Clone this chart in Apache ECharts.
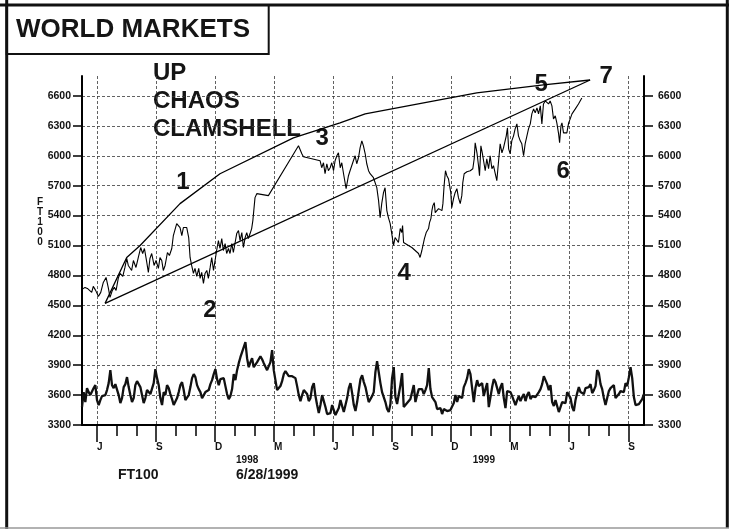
<!DOCTYPE html>
<html><head><meta charset="utf-8">
<script src="https://cdn.jsdelivr.net/npm/echarts@6.0.0/dist/echarts.min.js"></script>
<style>html,body{margin:0;padding:0;background:#fff}#c{width:729px;height:529px}</style>
</head><body><div id="c"></div>
<script>
const FONT = '"Liberation Sans", Arial, Helvetica, sans-serif';
// x unit: months since 1 June 1997
const xMin = -0.763, xMax = 27.8;
const quarterTicks = [0,3,6,9,12,15,18,21,24,27];
const quarterLabels = ['J','S','D','M','J','S','D','M','J','S'];
const monthTicks = [0,1,2,3,4,5,6,7,8,9,10,11,12,13,14,15,16,17,18,19,20,21,22,23,24,25,26,27];
const yearPos = [7.63, 19.66];
const yearLabels = ['1998','1999'];
const yTicks = [3300,3600,3900,4200,4500,4800,5100,5400,5700,6000,6300,6600];

// FT100 price [month, value]
const price = [[-0.76,4660],[-0.61,4680],[-0.49,4670],[-0.39,4680],[-0.27,4630],[-0.19,4690],[-0.07,4650],[0.07,4590],[0.19,4630],[0.32,4730],[0.46,4780],[0.58,4670],[0.66,4580],[0.78,4650],[0.88,4680],[0.97,4650],[1.08,4770],[1.17,4820],[1.31,4790],[1.42,4880],[1.51,4970],[1.59,4900],[1.68,4920],[1.76,4850],[1.85,4950],[1.98,4880],[2.10,4980],[2.22,5080],[2.32,5020],[2.41,5070],[2.53,4930],[2.61,4830],[2.69,4970],[2.78,5020],[2.90,4900],[3.00,4950],[3.12,4870],[3.20,4980],[3.29,4950],[3.37,4850],[3.46,4900],[3.58,5030],[3.68,5000],[3.80,5070],[3.88,5200],[3.97,5180],[4.05,5320],[4.14,5330],[4.22,5280],[4.31,5200],[4.39,5280],[4.47,5270],[4.56,5280],[4.66,5180],[4.73,4980],[4.81,4900],[4.90,4820],[4.98,4870],[5.07,4790],[5.17,4870],[5.24,4770],[5.32,4830],[5.41,4720],[5.49,4820],[5.58,4850],[5.66,4770],[5.75,4880],[5.83,4980],[5.92,4850],[6.00,4950],[6.08,5050],[6.17,5150],[6.25,5070],[6.34,5170],[6.42,5050],[6.51,5120],[6.59,5020],[6.68,5070],[6.76,5020],[6.85,5120],[6.93,5030],[7.02,5130],[7.10,5220],[7.19,5250],[7.27,5150],[7.36,5230],[7.44,5080],[7.53,5180],[7.61,5230],[7.69,5170],[7.78,5220],[7.86,5270],[7.92,5350],[8.03,5580],[8.12,5620],[8.20,5600],[8.71,5600],[10.24,6100],[10.41,6020],[10.49,5990],[11.34,5950],[11.42,5880],[11.51,5930],[11.59,5820],[11.68,5920],[11.76,5850],[11.85,5880],[11.93,5930],[12.02,5850],[12.10,5950],[12.19,6000],[12.27,6030],[12.36,5880],[12.44,5930],[12.53,5820],[12.66,5670],[12.78,5800],[12.86,5850],[13.03,5950],[13.12,6000],[13.20,5920],[13.29,5980],[13.37,6080],[13.46,6150],[13.54,6100],[13.63,6020],[13.71,5920],[13.80,5850],[13.88,5820],[14.05,5780],[14.14,5770],[14.22,5680],[14.31,5550],[14.39,5380],[14.47,5520],[14.56,5630],[14.64,5680],[14.73,5450],[14.81,5380],[14.90,5320],[14.98,5220],[15.07,5100],[15.15,5180],[15.24,5200],[15.32,5130],[15.41,5270],[15.49,5230],[15.53,5300],[15.58,5130],[15.66,5120],[15.83,5100],[16.00,5080],[16.17,5050],[16.34,5020],[16.42,4980],[16.51,5050],[16.59,5070],[16.64,5170],[16.73,5230],[16.80,5220],[16.85,5270],[16.90,5330],[16.97,5370],[17.02,5450],[17.07,5500],[17.14,5530],[17.19,5430],[17.27,5450],[17.36,5470],[17.44,5480],[17.53,5450],[17.58,5520],[17.64,5700],[17.71,5850],[17.78,5800],[17.86,5770],[17.95,5750],[17.98,5630],[18.03,5480],[18.12,5570],[18.20,5630],[18.29,5670],[18.37,5580],[18.46,5520],[18.54,5600],[18.59,5730],[18.66,5820],[18.80,5840],[18.97,5850],[19.10,5870],[19.17,5970],[19.22,6130],[19.31,6030],[19.39,5900],[19.44,5800],[19.51,6100],[19.58,6030],[19.64,6020],[19.73,5850],[19.81,5970],[19.90,5870],[19.98,6000],[20.07,5870],[20.15,5900],[20.24,5820],[20.32,5750],[20.41,5950],[20.49,6120],[20.58,6030],[20.66,6080],[20.75,6100],[20.80,6200],[20.86,6280],[20.92,6070],[21.00,6020],[21.08,6150],[21.17,6200],[21.25,6270],[21.34,6320],[21.42,6200],[21.51,6150],[21.59,6120],[21.68,6000],[21.76,6120],[21.85,6200],[21.93,6270],[22.02,6320],[22.10,6420],[22.19,6470],[22.27,6430],[22.36,6480],[22.44,6420],[22.53,6500],[22.61,6320],[22.69,6520],[22.78,6550],[22.86,6570],[22.95,6520],[23.03,6550],[23.12,6500],[23.20,6370],[23.29,6400],[23.37,6330],[23.46,6220],[23.51,6130],[23.58,6300],[23.63,6330],[23.71,6230],[23.80,6230],[23.88,6230],[23.97,6330],[24.05,6370],[24.14,6420],[24.22,6400],[24.31,6470],[24.39,6450],[24.47,6520],[24.56,6530],[24.64,6580]];

// lower oscillator, sampled at a regular step (months)
const oscStep = 0.08475;
const oscStartA = -0.763;
const oscA = [3480,3630,3530,3670,3630,3600,3580,3670,3700,3550,
3500,3550,3590,3580,3600,3650,3720,3850,3700,3670,
3710,3700,3600,3520,3570,3680,3710,3780,3680,3600,
3530,3570,3700,3740,3730,3680,3600,3520,3570,3650,
3670,3610,3620,3720,3860,3770,3700,3570,3500,3630,
3600,3700,3670,3610,3560,3500,3500,3570,3630,3700,
3730,3650,3550,3530,3600,3680,3770,3810,3780,3700,
3660,3630,3570,3570,3630,3640,3650,3710,3750,3810,
3860,3760,3700,3760,3770,3770,3690,3610,3560,3590,
3660,3810,3750,3850,3920,3980,3970,4080,4130,3970,
3880,3930,3970,3880,3870,3930,3960,3990,3960,3920,
3920,3850,3830,3930,4050,3850,3750,3650,3660,3690,
3740,3810,3840,3850,3790,3790,3790,3770,3770,3690,
3600,3540,3600,3650,3640,3610,3540,3570,3680,3720,
3590,3500,3420,3500,3600,3580,3480,3410,3410,3420,
3500,3480,3400,3400,3470,3550,3530,3430,3430,3570,
3670,3720,3620,3500,3440,3530,3650,3760,3800,3730,
3680,3600];
const oscStartB = 13.81;
const oscB = [3530,3520,3590,3630,3830,3940,3830,3720,3630,3580,
3530,3460,3430,3510,3770,3880,3580,3510,3520,3700,
3820,3480,3460,3520,3520,3560,3540,3700,3530,3600,
3660,3640,3660,3610,3650,3700,3870,3660,3580,3580,
3530,3460,3440,3470,3410,3460,3470,3440,3450,3450,
3470,3520,3600,3530,3590,3590,3570,3680,3720,3770,
3860,3810,3670,3530,3670,3750,3690,3710,3720,3590,
3660,3720,3480,3500,3680,3760,3730,3710,3610,3680,
3720,3570,3470,3640,3660,3630,3590,3570,3500,3550,
3590,3540,3580,3610,3540,3600,3630,3560,3590,3570,
3580,3560,3630,3660,3710,3790,3800,3710,3650,3700,
3530,3490,3550,3490,3430,3440,3530,3550,3520,3630,
3650,3570,3480,3440,3550,3620,3680,3630,3650,3610,
3670,3650,3680,3710,3620,3650,3690,3850,3820,3710,
3660,3570,3500,3570,3640,3670,3650,3700,3570,3590,
3610,3640,3650,3630,3720,3690,3780,3880,3770,3580,
3500,3490,3510,3490,3560,3610];

// clamshell boundaries [month, value]
const clamTop = [[0.41,4520],[1.51,4980],[2.19,5100],[4.22,5520],[6.25,5820],[9.98,6180],[12.35,6330],[13.63,6420],[19.30,6630],[22.69,6710],[25.06,6760]];
const clamBottom = [[0.41,4520],[25.06,6760]];

// wave count annotations
const waveLabels = ['1','2','3','4','5','6','7'];
const waveMonths = [4.37,5.74,11.44,15.61,22.57,23.69,25.88];
const waveValues = [5730,4450,6170,4820,6720,5840,6800];

const oscData = oscA.map((v,i)=>[oscStartA + i*oscStep, v])
  .concat(oscB.map((v,i)=>[oscStartB + i*oscStep, v]));
const waveData = waveMonths.map((m,i)=>[m, waveValues[i]]);

const gridLine = {color:'#3a3a3a', width:0.8, type:[3,2]};
const axisBlack = {color:'#000', width:2};
const tickBlack = {color:'#000', width:1.5};

const chart = echarts.init(document.getElementById('c'), null, {renderer:'canvas'});
chart.setOption({
  animation:false,
  backgroundColor:'#fff',
  grid:{left:82, right:85, top:76, bottom:104, containLabel:false},
  xAxis:[
    {type:'value', min:xMin, max:xMax, position:'bottom',
     axisLine:{show:true, onZero:false, lineStyle:axisBlack},
     axisTick:{show:true, customValues:quarterTicks, length:17, lineStyle:tickBlack},
     axisLabel:{show:true, customValues:quarterTicks, margin:17, align:'left',
       fontSize:10, fontWeight:'bold', fontFamily:FONT, color:'#111',
       formatter:v=>{const k=quarterTicks.indexOf(Math.round(v)); return k>=0?quarterLabels[k]:'';}},
     splitLine:{show:true, lineStyle:gridLine}},
    {type:'value', min:xMin, max:xMax, position:'bottom',
     axisLine:{show:false, onZero:false},
     axisTick:{show:true, customValues:monthTicks, length:11, lineStyle:tickBlack},
     axisLabel:{show:false}, splitLine:{show:false}},
    {type:'value', min:xMin, max:xMax, position:'bottom',
     axisLine:{show:false, onZero:false}, axisTick:{show:false},
     axisLabel:{show:true, customValues:yearPos, margin:30, fontSize:10, fontWeight:'bold', fontFamily:FONT, color:'#111',
       formatter:v=>{let best=0; yearPos.forEach((p,i)=>{if(Math.abs(p-v)<Math.abs(yearPos[best]-v))best=i;}); return yearLabels[best];}},
     splitLine:{show:false}}
  ],
  yAxis:[
    {type:'value', min:3300, max:6800, position:'left',
     axisLine:{show:true, onZero:false, lineStyle:axisBlack},
     axisTick:{show:true, customValues:yTicks, length:9, lineStyle:tickBlack},
     axisLabel:{show:true, customValues:yTicks, margin:11, fontSize:10.5, fontWeight:'bold', fontFamily:FONT, color:'#111', formatter:v=>String(Math.round(v))},
     splitLine:{show:true, lineStyle:gridLine}},
    {type:'value', min:3300, max:6800, position:'right',
     axisLine:{show:true, onZero:false, lineStyle:axisBlack},
     axisTick:{show:true, customValues:yTicks, length:9, lineStyle:tickBlack},
     axisLabel:{show:true, customValues:yTicks, margin:14, fontSize:10.5, fontWeight:'bold', fontFamily:FONT, color:'#111', formatter:v=>String(Math.round(v))},
     splitLine:{show:false}}
  ],
  series:[
    {name:'Oscillator', type:'line', data:oscData, showSymbol:false, silent:true,
     lineStyle:{color:'#111', width:2.3}},
    {name:'FT100', type:'line', data:price, showSymbol:false, silent:true,
     lineStyle:{color:'#000', width:1.1}},
    {name:'ClamTop', type:'line', data:clamTop, showSymbol:false, silent:true,
     lineStyle:{color:'#000', width:1.3}},
    {name:'ClamBottom', type:'line', data:clamBottom, showSymbol:false, silent:true,
     lineStyle:{color:'#000', width:1.3}},
    {name:'Waves', type:'custom', data:waveData, silent:true, clip:false,
     renderItem:(params, api)=>{
       const p = api.coord([api.value(0), api.value(1)]);
       return {type:'text', x:p[0], y:p[1],
         style:{text:waveLabels[params.dataIndex], font:'bold 24px '+FONT, fill:'#151515', align:'center', verticalAlign:'middle'}};
     }}
  ],
  graphic:[
    {type:'line', shape:{x1:0,y1:5,x2:729,y2:5}, style:{stroke:'#111', lineWidth:3}},
    {type:'line', shape:{x1:6.7,y1:0,x2:6.7,y2:529}, style:{stroke:'#111', lineWidth:3}},
    {type:'line', shape:{x1:727.3,y1:0,x2:727.3,y2:528}, style:{stroke:'#111', lineWidth:3}},
    {type:'line', shape:{x1:0,y1:528,x2:729,y2:528}, style:{stroke:'#999', lineWidth:1.5}},
    {type:'rect', shape:{x:6.7,y:5,width:262,height:49}, style:{fill:'none', stroke:'#111', lineWidth:2}},
    {type:'text', x:16, y:30, style:{text:'WORLD MARKETS', font:'bold 26px '+FONT, fill:'#151515', align:'left', verticalAlign:'middle', textAlign:'left', textVerticalAlign:'middle'}},
    {type:'text', x:153, y:59.5, style:{text:'UP\nCHAOS\nCLAMSHELL', font:'bold 24px '+FONT, lineHeight:28, fill:'#151515', align:'left', verticalAlign:'top', textAlign:'left', textVerticalAlign:'top'}},
    {type:'text', x:40, y:196.8, style:{text:'F\nT\n1\n0\n0', font:'bold 10px '+FONT, lineHeight:10.1, fill:'#151515', align:'center', verticalAlign:'top', textAlign:'center', textVerticalAlign:'top'}},
    {type:'text', x:118, y:475.3, style:{text:'FT100', font:'bold 14px '+FONT, fill:'#151515', align:'left', verticalAlign:'middle', textAlign:'left', textVerticalAlign:'middle'}},
    {type:'text', x:236, y:475.5, style:{text:'6/28/1999', font:'bold 14px '+FONT, fill:'#151515', align:'left', verticalAlign:'middle', textAlign:'left', textVerticalAlign:'middle'}}
  ]
});
</script></body></html>
